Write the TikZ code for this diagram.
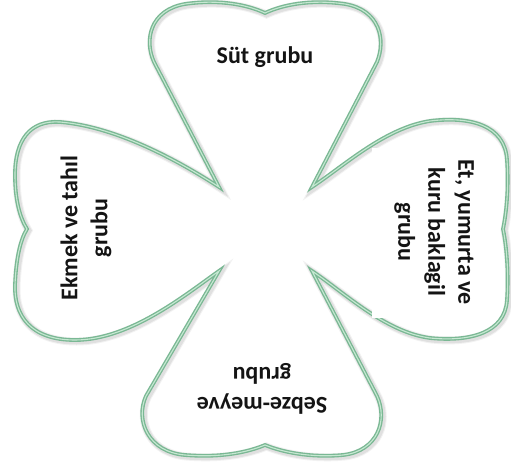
\documentclass[tikz,border=0pt]{standalone}
\usepackage{fontspec}
\setmainfont{Carlito}
\definecolor{leafline}{RGB}{122,184,148}
\definecolor{leafin}{RGB}{198,232,210}
\definecolor{txt}{RGB}{20,20,20}
\tikzset{
  leaftext/.style={font=\fontsize{24}{30}\selectfont\bfseries, text=txt, align=center, inner sep=0pt},
  leafshadow/.style={line join=miter, draw=black, opacity=#1},
  leafouter/.style={line join=miter, draw=leafline, line width=3.8pt},
  leafinner/.style={line join=miter, draw=leafin, line width=1.1pt},
}
\def\cloverpath{(219,187) -- (154,62)
  .. controls (144,40) and (150,10) .. (185,4)
  .. controls (220,-1) and (248,5) .. (265,13)
  .. controls (282,5) and (310,-1) .. (345,4)
  .. controls (380,10) and (386,40) .. (377,62)
  -- (312,187)
  .. controls (345,165) and (385,128) .. (430,121)
  .. controls (470,116) and (505,125) .. (507,160)
  .. controls (509,190) and (506,215) .. (503,229)
  .. controls (506,243) and (509,270) .. (507,300)
  .. controls (505,333) and (470,342) .. (430,338)
  .. controls (385,332) and (345,293) .. (312,271)
  -- (377,396)
  .. controls (388,420) and (378,451) .. (343,455)
  .. controls (310,458) and (282,452) .. (265,445)
  .. controls (248,452) and (222,458) .. (185,455)
  .. controls (148,452) and (135,420) .. (146,396)
  -- (219,271)
  .. controls (185,295) and (130,340) .. (75,340)
  .. controls (30,340) and (14,315) .. (15,285)
  .. controls (16,260) and (20,240) .. (27,229)
  .. controls (20,218) and (15,200) .. (15,175)
  .. controls (15,140) and (30,120) .. (60,122)
  .. controls (120,127) and (185,165) .. (219,187) -- cycle}
\begin{document}
\begin{tikzpicture}[x=1pt,y=-1pt]
\useasboundingbox[fill=white] (0,0) rectangle (511,466);
% soft shadow
\draw[leafshadow=0.05, line width=8pt, shift={(1.5,1.5)}] \cloverpath;
\draw[leafshadow=0.07, line width=6pt, shift={(1.5,1.5)}] \cloverpath;
% outline
\draw[leafouter] \cloverpath;
\draw[leafinner] \cloverpath;
% white text box covering part of the outline
\fill[white] (372,148) rectangle (460,318);
% texts
\node[leaftext, anchor=base] (sut) at (265,63) {Süt grubu};
\node[leaftext, rotate=90] (ekmek) at (86,228) {Ekmek ve tahıl\\grubu};
\node[leaftext, rotate=-90] (et) at (434,232) {Et, yumurta ve\\kuru baklagil\\grubu};
\node[leaftext, rotate=180] (sebze) at (262,389) {Sebze-meyve\\grubu};
\end{tikzpicture}
\end{document}
